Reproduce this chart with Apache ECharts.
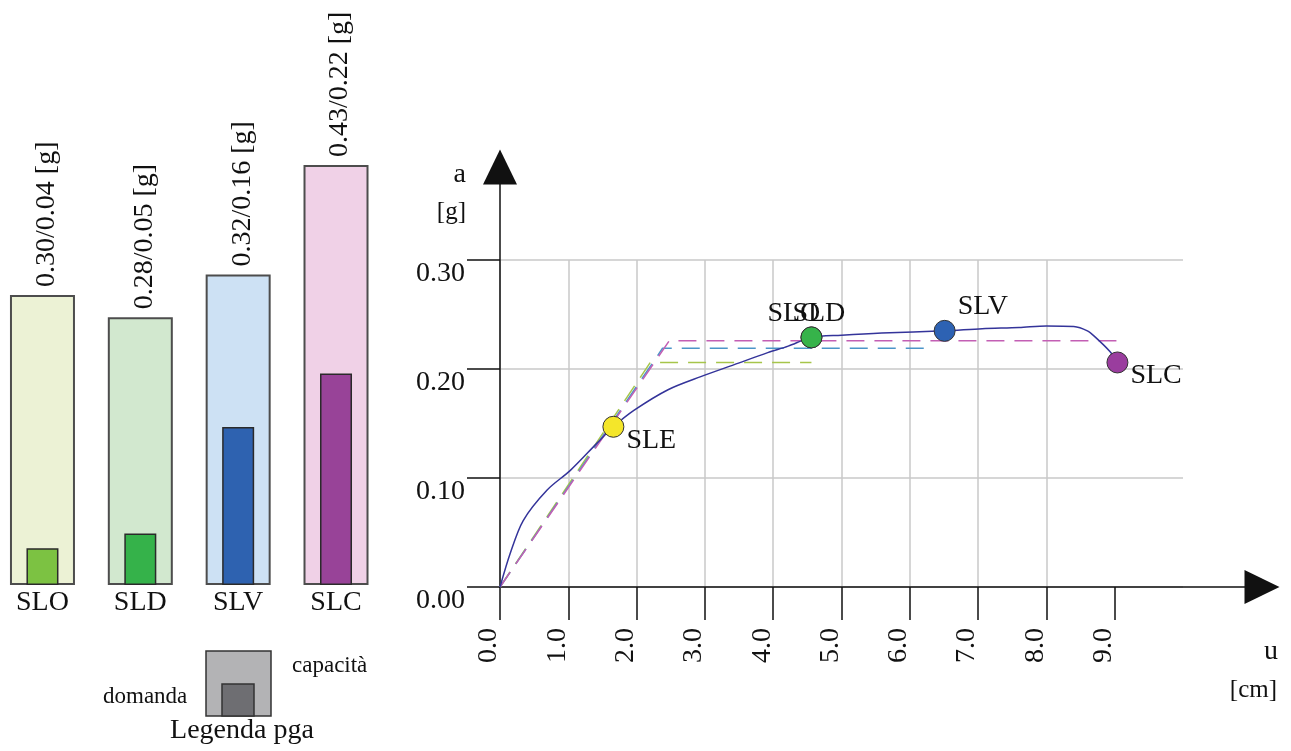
<!DOCTYPE html>
<html><head><meta charset="utf-8">
<script src="https://cdn.jsdelivr.net/npm/echarts@6/dist/echarts.min.js"></script>
<style>html,body{margin:0;padding:0;background:#fff}#c{width:1291px;height:751px}</style>
</head><body><div id="c"></div>
<script>
// ---- Left chart: pga capacity / demand per limit state ----
const states = ['SLO', 'SLD', 'SLV', 'SLC'];
const capacity = [0.299, 0.276, 0.320, 0.433];
const demand = [0.038, 0.053, 0.163, 0.218];
const capColors = ['#ecf2d5', '#d2e8cf', '#cde1f4', '#f0d1e7'];
const demColors = ['#7cc242', '#35b24a', '#2e62b0', '#984398'];

// ---- Right chart: capacity curve (u [cm], a [g]) ----
const curveU = [0, 0.15, 0.34, 0.69, 1.03, 1.42, 1.66, 1.96, 2.46, 2.94, 3.43, 3.92, 4.22, 4.56, 5.0, 5.59, 6.51, 7.06, 7.6, 8.0, 8.4, 8.6, 8.72, 8.93, 9.04];
const curveA = [0, 0.031, 0.061, 0.089, 0.107, 0.132, 0.147, 0.162, 0.181, 0.193, 0.204, 0.215, 0.221, 0.229, 0.231, 0.233, 0.235, 0.237, 0.238, 0.2395, 0.239, 0.235, 0.229, 0.216, 0.206];

// bilinear equivalents (dashed)
const bilinGreenU = [0, 2.2, 4.56];
const bilinGreenA = [0, 0.206, 0.206];
const bilinBlueU = [0, 2.38, 6.3];
const bilinBlueA = [0, 0.219, 0.219];
const bilinMagU = [0, 2.48, 9.04];
const bilinMagA = [0, 0.226, 0.226];

// limit state points
const pointNames = ['SLE', 'SLO', 'SLD', 'SLV', 'SLC'];
const pointU = [1.66, 4.56, 4.56, 6.51, 9.04];
const pointA = [0.147, 0.229, 0.229, 0.235, 0.206];
const pointColors = ['#f4e62a', '#7cc242', '#36b34a', '#2d62b3', '#9a3d9e'];

const xTicks = [0, 1, 2, 3, 4, 5, 6, 7, 8, 9];
const yTicks = [0, 0.1, 0.2, 0.3];
const stateIdx = [0, 1, 2, 3];

const FONT = 'Liberation Serif';
const labelOffsets = { SLE: [0, 14], SLO: [-57, -24], SLD: [-32, -24], SLV: [0, -24], SLC: [0, 13] };

const zip = (a, b) => a.map((v, i) => [v, b[i]]);

const chart = echarts.init(document.getElementById('c'));
const dashed = (u, a, color) => ({
  type: 'line', xAxisIndex: 2, yAxisIndex: 1, data: zip(u, a), showSymbol: false, symbol: 'none',
  lineStyle: { color: color, width: 1.5, type: [18, 10] }, z: 2, silent: true
});

chart.setOption({
  animation: false,
  backgroundColor: '#ffffff',
  grid: [
    { left: 0, width: 391, top: 100, height: 485, outerBoundsMode: 'none', containLabel: false },
    { left: 500, width: 683, top: 260, height: 327, outerBoundsMode: 'none', containLabel: false },
    { left: 500, width: 762, top: 167, height: 420, outerBoundsMode: 'none', containLabel: false }
  ],
  xAxis: [
    { gridIndex: 0, type: 'value', min: -0.434, max: 3.562,
      axisLine: { show: false }, axisTick: { show: false }, splitLine: { show: false },
      axisLabel: { customValues: stateIdx, fontSize: 28, fontFamily: FONT, color: '#111', margin: 4,
        formatter: v => states[Math.round(v)] } },
    { gridIndex: 0, type: 'value', min: -0.434, max: 3.562, show: false, splitLine: { show: false } },
    { gridIndex: 1, type: 'value', min: 0, max: 10, interval: 1,
      axisLine: { show: false },
      axisTick: { show: true, length: 33, customValues: xTicks, lineStyle: { color: '#111', width: 1.5 } },
      axisLabel: { show: true, customValues: xTicks, rotate: 90, margin: 41, fontSize: 28, fontFamily: FONT, color: '#111',
        verticalAlign: 'bottom', lineHeight: 22,
        formatter: v => Number(v).toFixed(1) },
      splitLine: { show: true, showMaxLine: false, lineStyle: { color: '#c8c8c8', width: 1.5 } } },
    { gridIndex: 2, type: 'value', min: 0, max: 1,
      axisLine: { show: true, symbol: ['none', 'triangle'], symbolSize: [34, 35], lineStyle: { color: '#111', width: 1.5 } },
      axisTick: { show: false }, axisLabel: { show: false }, splitLine: { show: false } }
  ],
  yAxis: [
    { gridIndex: 0, type: 'value', min: 0, max: 0.5, show: false, splitLine: { show: false } },
    { gridIndex: 1, type: 'value', min: 0, max: 0.3, interval: 0.1,
      axisLine: { show: false },
      axisTick: { show: true, length: 33, lineStyle: { color: '#111', width: 1.5 } },
      axisLabel: { margin: 35, fontSize: 28, fontFamily: FONT, color: '#111', verticalAlign: 'top',
        formatter: v => Number(v).toFixed(2) },
      splitLine: { show: true, lineStyle: { color: '#c8c8c8', width: 1.5 } } },
    { gridIndex: 2, type: 'value', min: 0, max: 1,
      axisLine: { show: true, symbol: ['none', 'triangle'], symbolSize: [34, 35], lineStyle: { color: '#111', width: 1.5 } },
      axisTick: { show: false }, axisLabel: { show: false }, splitLine: { show: false } }
  ],
  series: [
    { type: 'bar', xAxisIndex: 0, yAxisIndex: 0, barWidth: 65,
      data: capacity.map((v, i) => ({ value: [stateIdx[i], v], itemStyle: { color: capColors[i] } })),
      itemStyle: { borderColor: '#4d4d4d', borderWidth: 2 },
      label: { show: true, position: 'top', rotate: 90, align: 'left', verticalAlign: 'top', lineHeight: 8, distance: 8,
        fontSize: 28, fontFamily: FONT, color: '#111',
        formatter: p => capacity[p.dataIndex].toFixed(2) + '/' + demand[p.dataIndex].toFixed(2) + ' [g]' } },
    { type: 'bar', xAxisIndex: 1, yAxisIndex: 0, barWidth: 32, z: 3,
      data: demand.map((v, i) => ({ value: [stateIdx[i], v], itemStyle: { color: demColors[i] } })),
      itemStyle: { borderColor: '#2a2a2a', borderWidth: 1.5 } },
    dashed(bilinGreenU, bilinGreenA, '#a6c54a'),
    dashed(bilinBlueU, bilinBlueA, '#4c95c9'),
    dashed(bilinMagU, bilinMagA, '#c35fb4'),
    { type: 'line', xAxisIndex: 2, yAxisIndex: 1, data: zip(curveU, curveA), smooth: 0.3, showSymbol: false, symbol: 'none',
      lineStyle: { color: '#34349a', width: 1.5 }, z: 3 },
    { type: 'scatter', xAxisIndex: 2, yAxisIndex: 1, symbolSize: 21, z: 5,
      data: pointNames.map((n, i) => ({
        name: n, value: [pointU[i], pointA[i]],
        itemStyle: { color: pointColors[i] },
        label: { offset: labelOffsets[n] }
      })),
      itemStyle: { borderColor: '#333', borderWidth: 1, opacity: 1 },
      label: { show: true, position: 'right', distance: 2, align: 'left', verticalAlign: 'middle',
        fontSize: 28, fontFamily: FONT, color: '#111', formatter: p => p.name },
      emphasis: { disabled: true } }
  ],
  graphic: [
    { type: 'text', style: { text: 'a', x: 466, y: 175, align: 'right', verticalAlign: 'middle', font: '28px "Liberation Serif"', fill: '#111' } },
    { type: 'text', style: { text: '[g]', x: 466, y: 212, align: 'right', verticalAlign: 'middle', font: '25px "Liberation Serif"', fill: '#111' } },
    { type: 'text', style: { text: 'u', x: 1278, y: 652, align: 'right', verticalAlign: 'middle', font: '28px "Liberation Serif"', fill: '#111' } },
    { type: 'text', style: { text: '[cm]', x: 1277, y: 690, align: 'right', verticalAlign: 'middle', font: '25px "Liberation Serif"', fill: '#111' } },
    { type: 'rect', shape: { x: 206, y: 651, width: 65, height: 65 }, style: { fill: '#b3b3b5', stroke: '#333', lineWidth: 1.5 } },
    { type: 'rect', shape: { x: 222, y: 684, width: 32, height: 32 }, style: { fill: '#6e6e72', stroke: '#333', lineWidth: 1.5 } },
    { type: 'text', style: { text: 'capacità', x: 292, y: 666, align: 'left', verticalAlign: 'middle', font: '23px "Liberation Serif"', fill: '#111' } },
    { type: 'text', style: { text: 'domanda', x: 103, y: 697, align: 'left', verticalAlign: 'middle', font: '23px "Liberation Serif"', fill: '#111' } },
    { type: 'text', style: { text: 'Legenda pga', x: 242, y: 731, align: 'center', verticalAlign: 'middle', font: '28px "Liberation Serif"', fill: '#111' } }
  ]
});
</script>
</body></html>
